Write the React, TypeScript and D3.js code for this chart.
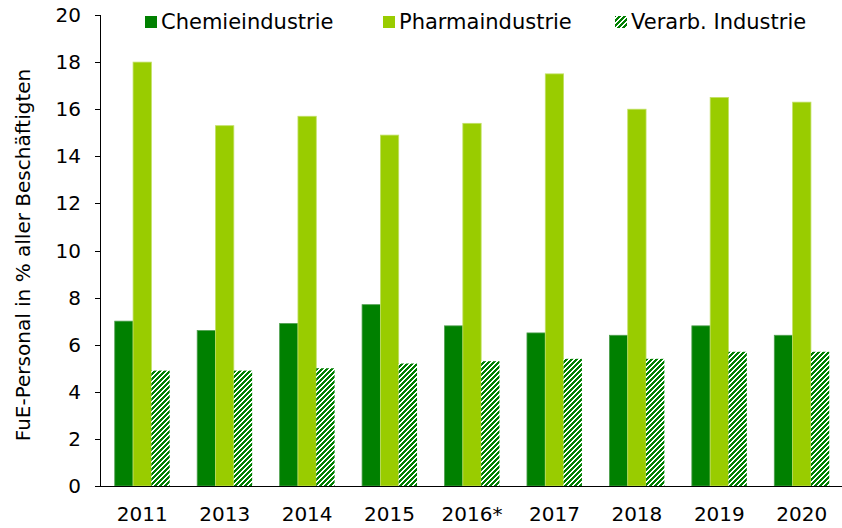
import React from "react";
import * as d3 from "d3";

const categories = ["2011", "2013", "2014", "2015", "2016*", "2017", "2018", "2019", "2020"];
const chemie = [7.0, 6.6, 6.9, 7.7, 6.8, 6.5, 6.4, 6.8, 6.4];
const pharma = [18.0, 15.3, 15.7, 14.9, 15.4, 17.5, 16.0, 16.5, 16.3];
const verarb = [4.9, 4.9, 5.0, 5.2, 5.3, 5.4, 5.4, 5.7, 5.7];
const seriesNames = ["Chemieindustrie", "Pharmaindustrie", "Verarb. Industrie"];
const yTicks = [0, 2, 4, 6, 8, 10, 12, 14, 16, 18, 20];

const W = 842;
const H = 528;
const FONT = "Verdana, 'DejaVu Sans', sans-serif";

// pixel cells of a 5x5 upward-diagonal hatch
const P = 5;
const hatchCells: [number, number][] = [];
for (let yy = 0; yy < P; yy++) {
  for (let k = 0; k < 3; k++) {
    hatchCells.push([(P - 1 - yy + k + P * 2) % P, yy]);
  }
}

export default function App() {
  const x = d3.scaleBand<string>().domain(categories).range([101, 843]).paddingInner(0).paddingOuter(0);
  const y = d3.scaleLinear().domain([0, 20]).range([486, 15]);
  const step = x.step();
  const barW = step / (3 + 1.5);
  const fills = ["#008000", "#99CC00", "url(#hatch)"];
  const strokes = ["#4f9f4f", "#c2e066", "none"];
  const series = [chemie, pharma, verarb];

  const legendX = [145, 383, 615];

  return (
    <svg width={W} height={H} style={{ position: "absolute", left: 0, top: 0 }} fontFamily={FONT}>
      <defs>
        <pattern id="hatch" patternUnits="userSpaceOnUse" x={0} y={0} width={P} height={P}>
          <rect width={P} height={P} fill="#ffffff" />
          {hatchCells.map(([cx, cy], k) => (
            <rect key={k} x={cx} y={cy} width={1} height={1} fill="#008000" shapeRendering="crispEdges" />
          ))}
        </pattern>
      </defs>
      <rect width={W} height={H} fill="#ffffff" />

      {series.map((vals, si) =>
        vals.map((v, i) => {
          const cx = (x(categories[i]) as number) + step / 2;
          const x0 = cx - 1.5 * barW + si * barW;
          return (
            <rect
              key={`${si}-${i}`}
              x={x0}
              y={y(v)}
              width={barW}
              height={y(0) - y(v)}
              fill={fills[si]}
              stroke={strokes[si]}
              strokeWidth={0.8}
            />
          );
        })
      )}

      {/* Y axis */}
      <line x1={100.5} x2={100.5} y1={y(20)} y2={y(0)} stroke="#000" strokeWidth={1} />
      {yTicks.map((t) => (
        <g key={t}>
          <line x1={95} x2={100.5} y1={Math.round(y(t)) + 0.5} y2={Math.round(y(t)) + 0.5} stroke="#000" />
          <text x={81} y={y(t)} dy="0.35em" textAnchor="end" fontSize={20} fill="#000">
            {t}
          </text>
        </g>
      ))}

      {/* X axis */}
      <line x1={100} x2={842} y1={486.5} y2={486.5} stroke="#000" strokeWidth={1} />
      {categories.map((c) => (
        <text key={c} x={(x(c) as number) + step / 2} y={521} textAnchor="middle" fontSize={20} fill="#000">
          {c}
        </text>
      ))}

      {/* Y title */}
      <text transform="translate(30,255) rotate(-90)" textAnchor="middle" fontSize={20} fill="#000">
        FuE-Personal in % aller Beschäftigten
      </text>

      {/* Legend */}
      {seriesNames.map((n, i) => (
        <g key={n}>
          <rect x={legendX[i]} y={16} width={12} height={12} fill={fills[i]} />
          <text x={legendX[i] + 16} y={29} fontSize={21} fill="#000">
            {n}
          </text>
        </g>
      ))}
    </svg>
  );
}
